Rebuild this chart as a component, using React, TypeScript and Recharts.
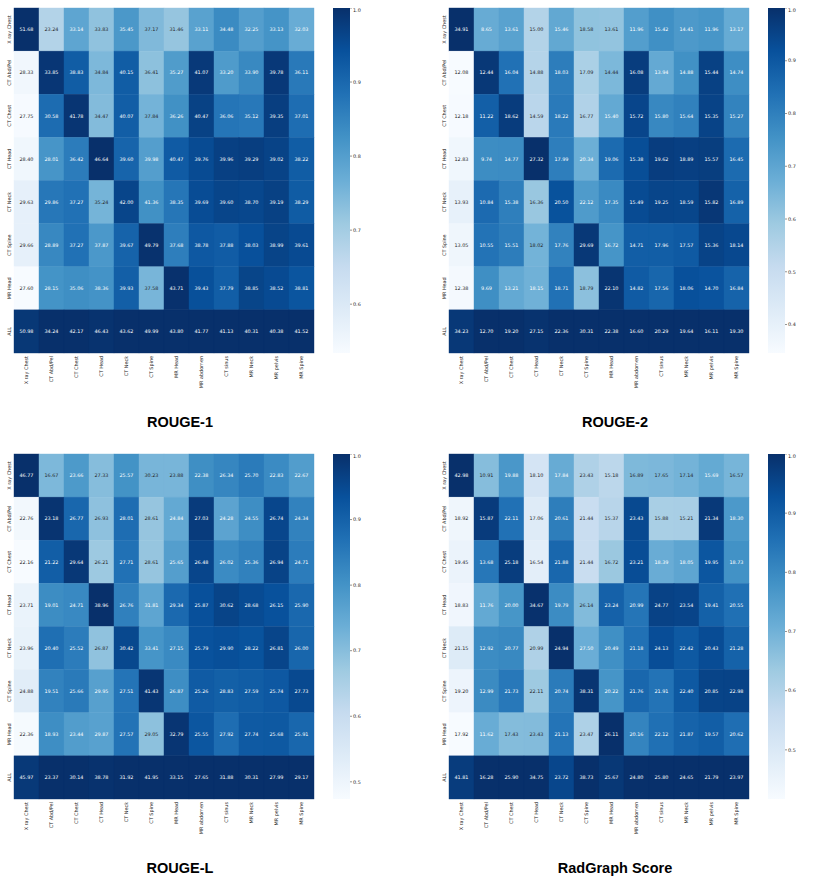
import React from "react";
import { ScatterChart, Scatter, XAxis, YAxis, BarChart, Bar } from "recharts";

const ROW_LABELS = ["X ray Chest", "CT Abd/Pel", "CT Chest", "CT Head", "CT Neck", "CT Spine", "MR Head", "ALL"];
const COL_LABELS = [
  "X ray Chest", "CT Abd/Pel", "CT Chest", "CT Head", "CT Neck", "CT Spine",
  "MR Head", "MR abdomen", "CT sinus", "MR Neck", "MR pelvis", "MR Spine",
];

const ROUGE_1 = [
  [51.68, 23.24, 33.14, 33.83, 35.45, 37.17, 31.46, 33.11, 34.48, 32.25, 33.13, 32.03],
  [28.33, 33.85, 38.83, 34.84, 40.15, 36.41, 35.27, 41.07, 33.2, 33.9, 39.78, 36.11],
  [27.75, 30.58, 41.78, 34.47, 40.07, 37.84, 36.26, 40.47, 36.06, 35.12, 39.35, 37.01],
  [28.4, 28.01, 36.42, 46.64, 39.6, 39.98, 40.47, 39.76, 39.96, 39.29, 39.02, 38.22],
  [29.63, 29.86, 37.27, 35.24, 42.0, 41.36, 38.35, 39.69, 39.6, 38.7, 39.19, 38.29],
  [29.66, 28.89, 37.27, 37.87, 39.67, 49.79, 37.68, 38.78, 37.88, 38.03, 38.99, 39.61],
  [27.6, 28.15, 35.06, 38.36, 39.93, 37.58, 43.71, 39.43, 37.79, 38.85, 38.52, 38.81],
  [50.98, 34.24, 42.17, 46.43, 43.62, 49.99, 43.8, 41.77, 41.13, 40.31, 40.38, 41.52],
];

const ROUGE_2 = [
  [34.91, 8.65, 13.61, 15.0, 15.46, 18.58, 13.61, 11.96, 15.42, 14.41, 11.96, 13.17],
  [12.08, 12.44, 16.04, 14.88, 18.03, 17.09, 14.44, 16.08, 13.94, 14.88, 15.44, 14.74],
  [12.18, 11.22, 18.62, 14.59, 18.22, 16.77, 15.4, 15.72, 15.8, 15.64, 15.35, 15.27],
  [12.83, 9.74, 14.77, 27.32, 17.99, 20.34, 19.06, 15.38, 19.62, 18.89, 15.57, 16.45],
  [13.93, 10.84, 15.38, 16.36, 20.5, 22.12, 17.35, 15.49, 19.25, 18.59, 15.82, 16.89],
  [13.05, 10.55, 15.51, 18.02, 17.76, 29.69, 16.72, 14.71, 17.96, 17.57, 15.36, 18.14],
  [12.38, 9.69, 13.21, 18.15, 18.71, 18.79, 22.1, 14.82, 17.56, 18.06, 14.7, 16.84],
  [34.23, 12.7, 19.2, 27.15, 22.36, 30.31, 22.38, 16.6, 20.29, 19.64, 16.11, 19.3],
];

const ROUGE_L = [
  [46.77, 16.67, 23.66, 27.33, 25.57, 30.23, 23.88, 22.38, 26.34, 25.7, 22.83, 22.67],
  [22.76, 23.18, 26.77, 26.93, 28.01, 28.61, 24.84, 27.03, 24.28, 24.55, 26.74, 24.34],
  [22.16, 21.22, 29.64, 26.21, 27.71, 28.61, 25.65, 26.48, 26.02, 25.36, 26.94, 24.71],
  [23.71, 19.01, 24.71, 38.96, 26.76, 31.81, 29.34, 25.87, 30.62, 28.68, 26.15, 25.9],
  [23.96, 20.4, 25.52, 26.87, 30.42, 33.41, 27.15, 25.79, 29.9, 28.22, 26.81, 26.0],
  [24.88, 19.51, 25.66, 29.95, 27.51, 41.43, 26.87, 25.26, 28.83, 27.59, 25.74, 27.73],
  [22.36, 18.93, 23.44, 29.87, 27.57, 29.05, 32.79, 25.55, 27.92, 27.74, 25.68, 25.91],
  [45.97, 23.37, 30.14, 38.78, 31.92, 41.95, 33.15, 27.65, 31.88, 30.31, 27.99, 29.17],
];

const RADGRAPH = [
  [42.98, 10.91, 19.88, 18.1, 17.84, 23.43, 15.18, 16.89, 17.65, 17.14, 15.69, 16.57],
  [18.92, 15.87, 22.11, 17.06, 20.61, 21.44, 15.37, 23.43, 15.88, 15.21, 21.34, 18.3],
  [19.45, 13.68, 25.18, 16.54, 21.88, 21.44, 16.72, 23.21, 18.39, 18.05, 19.95, 18.73],
  [18.83, 11.76, 20.0, 34.67, 19.79, 26.14, 23.24, 20.99, 24.77, 23.54, 19.41, 20.55],
  [21.15, 12.92, 20.77, 20.99, 24.94, 27.5, 20.49, 21.18, 24.13, 22.42, 20.43, 21.28],
  [19.2, 12.99, 21.73, 22.11, 20.74, 38.31, 20.22, 21.76, 21.91, 22.4, 20.85, 22.98],
  [17.92, 11.62, 17.43, 23.43, 21.13, 23.47, 26.11, 20.16, 22.12, 21.87, 19.57, 20.62],
  [41.81, 16.28, 25.9, 34.75, 23.72, 38.73, 25.67, 24.8, 25.8, 24.65, 21.79, 23.97],
];

const TICKS_R1 = [0.6, 0.7, 0.8, 0.9, 1.0];
const TICKS_R2 = [0.4, 0.5, 0.6, 0.7, 0.8, 0.9, 1.0];
const TICKS_RL = [0.5, 0.6, 0.7, 0.8, 0.9, 1.0];
const TICKS_RG = [0.5, 0.6, 0.7, 0.8, 0.9, 1.0];

// matplotlib "Blues"
const BLUES = ["#f7fbff", "#deebf7", "#c6dbef", "#9ecae1", "#6baed6", "#4292c6", "#2171b5", "#08519c", "#08306b"];

const hexRgb = (h: string) => [1, 3, 5].map((i) => parseInt(h.slice(i, i + 2), 16));

function blues(t: number): number[] {
  const p = Math.max(0, Math.min(1, t)) * (BLUES.length - 1);
  const i = Math.min(Math.floor(p), BLUES.length - 2);
  const f = p - i;
  const a = hexRgb(BLUES[i]);
  const b = hexRgb(BLUES[i + 1]);
  return a.map((v, k) => Math.round(v + (b[k] - v) * f));
}

// seaborn picks annotation colour by relative luminance
function textColor(rgb: number[]) {
  const lin = rgb.map((c) => {
    const v = c / 255;
    return v <= 0.03928 ? v / 12.92 : Math.pow((v + 0.055) / 1.055, 2.4);
  });
  const lum = lin[0] * 0.2126 + lin[1] * 0.7152 + lin[2] * 0.0722;
  return lum > 0.408 ? "#262626" : "#ffffff";
}

const FONT = "'DejaVu Sans', sans-serif";
const SMALL = 4.9;
const PLOT_W = 300;
const PLOT_H = 345;
const Y_AXIS_W = 14;
const TOP = 8;
const X_AXIS_H = 60;

function buildCells(values: number[][]) {
  const colMax = COL_LABELS.map((_, c) => Math.max(...values.map((r) => r[c])));
  const cells = values.flatMap((row, r) =>
    row.map((v, c) => ({ x: c, y: r, v, ratio: v / colMax[c] }))
  );
  const vmin = Math.min(...cells.map((d) => d.ratio));
  return { cells, vmin };
}

function Heatmap({ values, ticks, left, top, title, id }: any) {
  const { cells, vmin } = buildCells(values);
  const cellW = PLOT_W / COL_LABELS.length;
  const cellH = PLOT_H / ROW_LABELS.length;

  const CellShape = (p: any) => {
    const t = (p.payload.ratio - vmin) / (1 - vmin);
    const rgb = blues(t);
    const fill = `rgb(${rgb.join(",")})`;
    return (
      <g>
        <rect x={p.cx - cellW / 2} y={p.cy - cellH / 2} width={cellW} height={cellH} fill={fill} stroke={fill} strokeWidth={0.4} />
        <text x={p.cx} y={p.cy} dy="0.35em" textAnchor="middle" fontSize={SMALL} fontFamily={FONT} fill={textColor(rgb)}>
          {p.payload.v.toFixed(2)}
        </text>
      </g>
    );
  };

  const XTick = (p: any) => (
    <text
      transform={`translate(${p.x},${p.y + 3}) rotate(-90)`}
      dy="0.35em"
      textAnchor="end"
      fontSize={SMALL}
      fontFamily={FONT}
      fill="#262626"
    >
      {COL_LABELS[p.payload.value]}
    </text>
  );

  const YTick = (p: any) => (
    <text
      transform={`translate(${p.x - 5},${p.y}) rotate(-90)`}
      dy="0.35em"
      textAnchor="middle"
      fontSize={SMALL}
      fontFamily={FONT}
      fill="#262626"
    >
      {ROW_LABELS[p.payload.value]}
    </text>
  );

  const cbData = [{ k: "cb", range: [vmin, 1] }];

  return (
    <>
      <div style={{ position: "absolute", left, top }}>
        <ScatterChart
          width={Y_AXIS_W + PLOT_W + 2}
          height={TOP + PLOT_H + X_AXIS_H}
          margin={{ top: TOP, right: 2, left: 0, bottom: 0 }}
        >
          <XAxis
            type="number"
            dataKey="x"
            domain={[-0.5, COL_LABELS.length - 0.5]}
            ticks={COL_LABELS.map((_, i) => i)}
            interval={0}
            tickLine={false}
            axisLine={false}
            tickSize={0}
            tickMargin={0}
            height={X_AXIS_H}
            tick={XTick}
          />
          <YAxis
            type="number"
            dataKey="y"
            domain={[-0.5, ROW_LABELS.length - 0.5]}
            ticks={ROW_LABELS.map((_, i) => i)}
            interval={0}
            reversed
            tickLine={false}
            axisLine={false}
            tickSize={0}
            tickMargin={0}
            width={Y_AXIS_W}
            tick={YTick}
          />
          <Scatter data={cells} shape={CellShape} isAnimationActive={false} />
        </ScatterChart>
      </div>
      <div style={{ position: "absolute", left: left + Y_AXIS_W + 319, top: top + TOP }}>
        <BarChart width={42} height={PLOT_H} data={cbData} margin={{ top: 0, right: 0, left: 0, bottom: 0 }} barCategoryGap={0}>
          <defs>
            <linearGradient id={`cb-${id}`} x1="0" y1="1" x2="0" y2="0">
              {BLUES.map((c, i) => (
                <stop key={i} offset={i / (BLUES.length - 1)} stopColor={c} />
              ))}
            </linearGradient>
          </defs>
          <XAxis dataKey="k" hide />
          <YAxis
            orientation="right"
            type="number"
            domain={[vmin, 1]}
            allowDataOverflow
            ticks={ticks}
            tickFormatter={(v: number) => v.toFixed(1)}
            axisLine={false}
            tickSize={2}
            tickMargin={1}
            tickLine={{ stroke: "#262626", strokeWidth: 0.5 }}
            tick={{ fontSize: SMALL, fontFamily: FONT, fill: "#262626" }}
            width={25}
          />
          <Bar dataKey="range" fill={`url(#cb-${id})`} isAnimationActive={false} />
        </BarChart>
      </div>
      <svg style={{ position: "absolute", left: left, top: top + 405 }} width={360} height={30}>
        <text x={180} y={22} textAnchor="middle" fontSize={14.5} fontWeight="bold" fontFamily="'Liberation Sans', Arial, sans-serif" fill="#000">
          {title}
        </text>
      </svg>
    </>
  );
}

export default function App() {
  return (
    <div style={{ position: "absolute", left: 0, top: 0, width: 830, height: 885, background: "#fff" }}>
      <Heatmap id="r1" values={ROUGE_1} ticks={TICKS_R1} left={0} top={0} title="ROUGE-1" />
      <Heatmap id="r2" values={ROUGE_2} ticks={TICKS_R2} left={435} top={0} title="ROUGE-2" />
      <Heatmap id="rl" values={ROUGE_L} ticks={TICKS_RL} left={0} top={446} title="ROUGE-L" />
      <Heatmap id="rg" values={RADGRAPH} ticks={TICKS_RG} left={435} top={446} title="RadGraph Score" />
    </div>
  );
}
